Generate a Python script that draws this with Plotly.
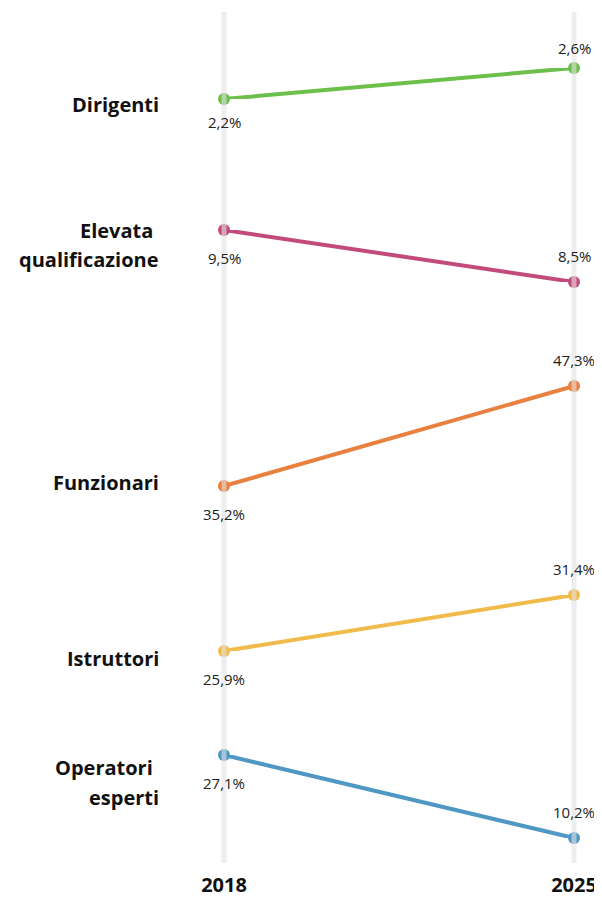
import plotly.graph_objects as go

# ---- data ----
categories = ["Dirigenti", "Elevata qualificazione", "Funzionari", "Istruttori", "Operatori esperti"]
label_lines = [["Dirigenti"], ["Elevata", "qualificazione"], ["Funzionari"], ["Istruttori"], ["Operatori", "esperti"]]
years = [2018, 2025]
values_2018 = [2.2, 9.5, 35.2, 25.9, 27.1]
values_2025 = [2.6, 8.5, 47.3, 31.4, 10.2]
year_labels = ["2018", "2025"]

# ---- style / layout ----
colors = ["#6cbf4b", "#c24b7b", "#e8803f", "#f1bb4c", "#4f98c4"]
OFF = 8  # page body margin
W, H = 602 - OFF, 898 - OFF
ML, MR, MT = 174 - OFF, 0, 12 - OFF
MB = H - (863 - OFF)
PLOT_H = H - MT - MB
# page-pixel rows (top, bottom) for each small multiple panel
row_px = [(68, 99), (230, 282), (386, 486), (595, 651), (755, 838)]
label_px = [[104], [230, 260], [482], [658], [767, 797]]
label_dx = [[0], [-6, 0], [0], [0], [-6, 0]]
below_shift = [23, 28, 28, 28, 28]
above_shift = [20, 26, 26, 26, 26]
FONT = "Open Sans"


def py2paper(py):
    return (MT + PLOT_H - (py - OFF)) / PLOT_H


fig = go.Figure()
layout = dict(
    width=W, height=H,
    margin=dict(l=ML, r=MR, t=MT, b=MB),
    plot_bgcolor="white", paper_bgcolor="white",
    showlegend=False,
    xaxis=dict(range=[2017, 2025.56], tickvals=years, ticktext=year_labels,
               showgrid=False, zeroline=False, showline=False, ticks="",
               anchor="free", position=0, ticklabelstandoff=8,
               tickfont=dict(family=FONT, size=20, color="#111111", weight="bold")),
)
annotations = []
shapes = []

for i, cat in enumerate(categories):
    ax = "y" if i == 0 else f"y{i+1}"
    key = "yaxis" if i == 0 else f"yaxis{i+1}"
    v0, v1 = values_2018[i], values_2025[i]
    top, bot = row_px[i]
    lo, hi = min(v0, v1), max(v0, v1)
    layout[key] = dict(domain=[py2paper(bot), py2paper(top)], range=[lo, hi],
                       visible=False, anchor="x")
    fig.add_trace(go.Scatter(
        x=years, y=[v0, v1], xaxis="x", yaxis=ax, mode="lines+markers",
        line=dict(color=colors[i], width=4),
        marker=dict(color=colors[i], size=12),
        cliponaxis=False, hoverinfo="skip"))
    for yr, v, shift in [(2018, v0, -below_shift[i]), (2025, v1, above_shift[i])]:
        annotations.append(dict(
            x=yr, y=v, xref="x", yref=ax, yshift=shift, showarrow=False,
            text=f"{v:.1f}".replace(".", ",") + "%",
            font=dict(family=FONT, size=15, color="#222222"),
            xanchor="center", yanchor="middle"))
    for line, ly, dx in zip(label_lines[i], label_px[i], label_dx[i]):
        annotations.append(dict(
            x=0, y=py2paper(ly), xref="paper", yref="paper", xshift=-13 + dx,
            showarrow=False, text=line, xanchor="right", yanchor="middle",
            font=dict(family=FONT, size=20, color="#111111", weight="bold")))

for yr in years:
    shapes.append(dict(type="line", xref="x", yref="paper", x0=yr, x1=yr, y0=0, y1=1,
                       line=dict(color="rgba(226,226,226,0.6)", width=5), layer="above"))

layout["annotations"] = annotations
layout["shapes"] = shapes
fig.update_layout(**layout)
fig.write_html("out.html")
